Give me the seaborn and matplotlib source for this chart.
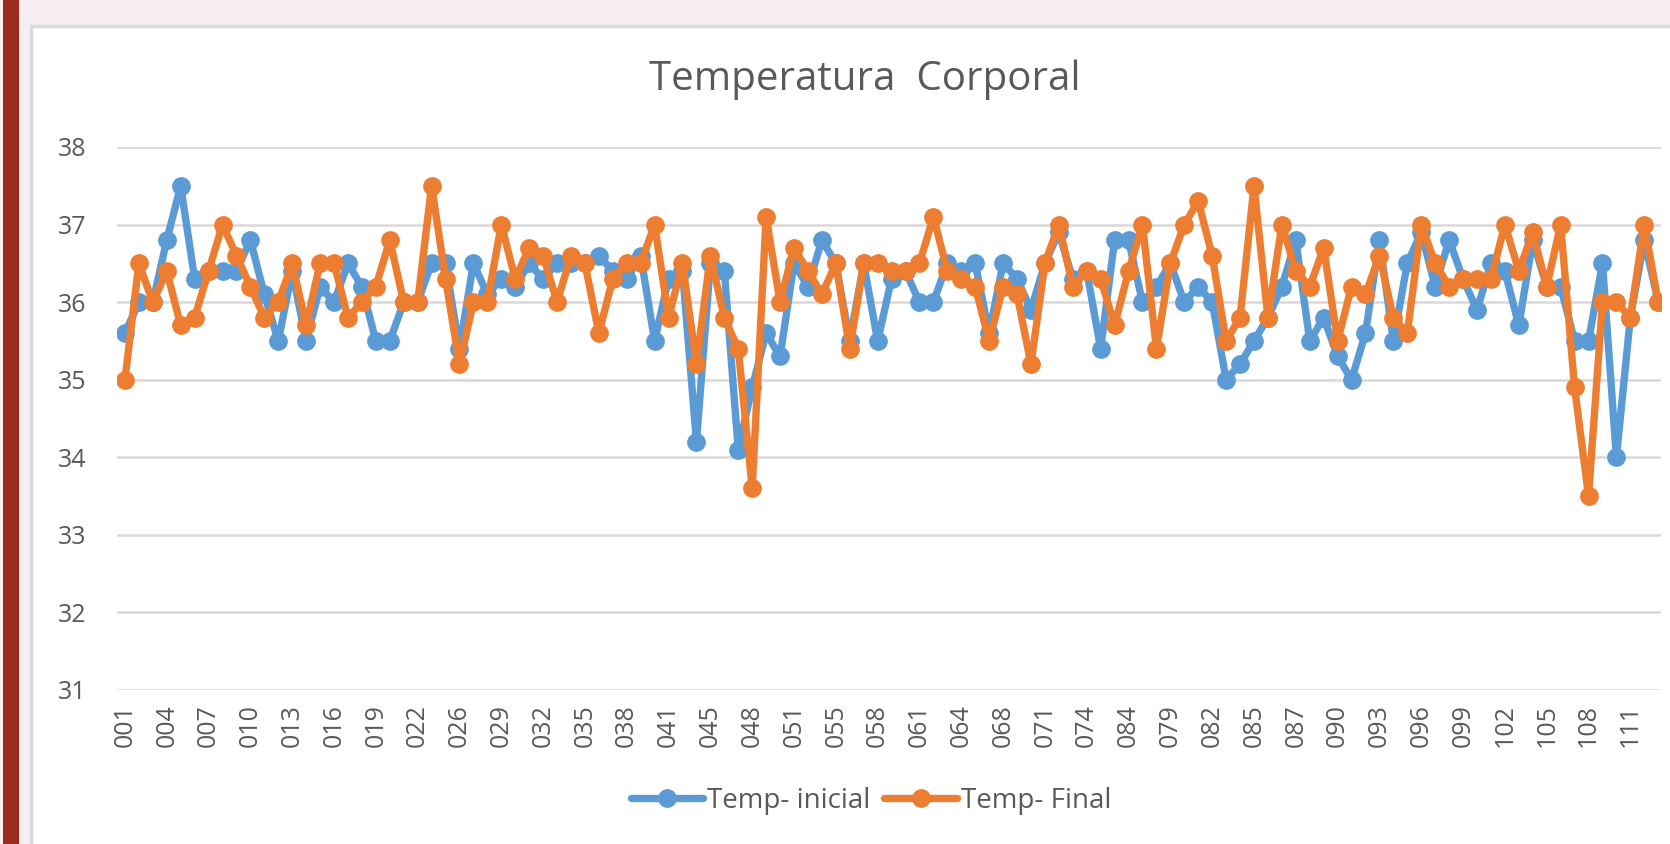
import numpy as np
import pandas as pd
import seaborn as sns
import matplotlib.pyplot as plt
from matplotlib.patches import Rectangle
from matplotlib.lines import Line2D

# patient ids, in the order of the sheet (some are out of order in the source)
ids = ['001', '002', '003', '004', '005', '006', '007', '008', '009', '010',
       '011', '012', '013', '014', '015', '016', '017', '018', '019', '020',
       '021', '022', '024', '025', '026', '027', '028', '029', '030', '031',
       '032', '033', '034', '035', '036', '037', '038', '039', '040', '041',
       '043', '044', '045', '046', '047', '048', '049', '050', '051', '053',
       '054', '055', '056', '057', '058', '059', '060', '061', '062', '063',
       '064', '066', '067', '068', '069', '070', '071', '072', '073', '074',
       '075', '076', '084', '077', '078', '079', '080', '081', '082', '083',
       '084', '085', '086', '086', '087', '088', '089', '090', '091', '092',
       '093', '094', '095', '096', '097', '098', '099', '100', '101', '102',
       '103', '104', '105', '106', '107', '108', '109', '110', '111', '112',
       '113']

temp_inicial = [35.6, 36.0, 36.0, 36.8, 37.5, 36.3, 36.4, 36.4, 36.4, 36.8,
                36.1, 35.5, 36.4, 35.5, 36.2, 36.0, 36.5, 36.2, 35.5, 35.5,
                36.0, 36.0, 36.5, 36.5, 35.4, 36.5, 36.1, 36.3, 36.2, 36.5,
                36.3, 36.5, 36.5, 36.5, 36.6, 36.4, 36.3, 36.6, 35.5, 36.3,
                36.4, 34.2, 36.5, 36.4, 34.1, 34.9, 35.6, 35.3, 36.5, 36.2,
                36.8, 36.5, 35.5, 36.5, 35.5, 36.3, 36.4, 36.0, 36.0, 36.5,
                36.4, 36.5, 35.6, 36.5, 36.3, 35.9, 36.5, 36.9, 36.3, 36.4,
                35.4, 36.8, 36.8, 36.0, 36.2, 36.5, 36.0, 36.2, 36.0, 35.0,
                35.2, 35.5, 35.8, 36.2, 36.8, 35.5, 35.8, 35.3, 35.0, 35.6,
                36.8, 35.5, 36.5, 36.9, 36.2, 36.8, 36.3, 35.9, 36.5, 36.4,
                35.7, 36.8, 36.2, 36.2, 35.5, 35.5, 36.5, 34.0, 35.8, 36.8,
                36.0]

temp_final = [35.0, 36.5, 36.0, 36.4, 35.7, 35.8, 36.4, 37.0, 36.6, 36.2,
              35.8, 36.0, 36.5, 35.7, 36.5, 36.5, 35.8, 36.0, 36.2, 36.8,
              36.0, 36.0, 37.5, 36.3, 35.2, 36.0, 36.0, 37.0, 36.3, 36.7,
              36.6, 36.0, 36.6, 36.5, 35.6, 36.3, 36.5, 36.5, 37.0, 35.8,
              36.5, 35.2, 36.6, 35.8, 35.4, 33.6, 37.1, 36.0, 36.7, 36.4,
              36.1, 36.5, 35.4, 36.5, 36.5, 36.4, 36.4, 36.5, 37.1, 36.4,
              36.3, 36.2, 35.5, 36.2, 36.1, 35.2, 36.5, 37.0, 36.2, 36.4,
              36.3, 35.7, 36.4, 37.0, 35.4, 36.5, 37.0, 37.3, 36.6, 35.5,
              35.8, 37.5, 35.8, 37.0, 36.4, 36.2, 36.7, 35.5, 36.2, 36.1,
              36.6, 35.8, 35.6, 37.0, 36.5, 36.2, 36.3, 36.3, 36.3, 37.0,
              36.4, 36.9, 36.2, 37.0, 34.9, 33.5, 36.0, 36.0, 35.8, 37.0,
              36.0]

series = ['Temp- inicial', 'Temp- Final']
colors = {'Temp- inicial': '#5B9BD5', 'Temp- Final': '#ED7D31'}

n = len(ids)
pos = np.arange(n)
df = pd.DataFrame({
    'pos': np.concatenate([pos, pos]),
    'temp': temp_inicial + temp_final,
    'serie': [series[0]] * n + [series[1]] * n,
})

sns.set_theme(style='white')
plt.rcParams['font.family'] = ['Open Sans', 'DejaVu Sans']
grey = '#595959'

W, H = 1670, 844
fig = plt.figure(figsize=(W / 100, H / 100), dpi=100)
fig.patch.set_facecolor('#F6EEF0')

# screenshot frame: white chart box and the red bar on the left
fig.patches.append(Rectangle((31 / W, -0.01), 1.0, (H - 26) / H + 0.01,
                             transform=fig.transFigure, facecolor='white',
                             edgecolor='#D9D9D9', linewidth=2.5, zorder=-2))
fig.patches.append(Rectangle((3 / W, 0), 16 / W, 1, transform=fig.transFigure,
                             facecolor='#9C2B1F', edgecolor='none', zorder=-1))

ax = fig.add_axes([117 / W, (H - 690) / H, (1661 - 117) / W, (690 - 147) / H])
ax.set_facecolor('none')

sns.lineplot(data=df, x='pos', y='temp', hue='serie', hue_order=series,
             palette=colors, marker='o', markersize=13.5, markeredgewidth=0,
             linewidth=5.3, legend=False, ax=ax)

ax.set_xlim(-0.57, 110.2)
ax.set_ylim(31, 38)
ax.set_yticks(range(31, 39))
ax.set_xticks(pos[::3])
ax.set_xticklabels(ids[::3], rotation=90)
ax.grid(axis='y', color='#D9D9D9', linewidth=1.8)
ax.set_axisbelow(True)
for s in ax.spines.values():
    s.set_visible(False)
ax.tick_params(axis='both', length=0, labelsize=18, labelcolor=grey)
ax.tick_params(axis='y', pad=22)
ax.tick_params(axis='x', pad=10)
ax.set_xlabel('')
ax.set_ylabel('')

fig.text(0.518, 0.905, 'Temperatura  Corporal', ha='center', va='center',
         fontsize=29, color=grey)

handles = [Line2D([], [], color=colors[s], marker='o', markersize=13.5,
                  markeredgewidth=0, linewidth=5.3) for s in series]
fig.legend(handles, series, loc='center', bbox_to_anchor=(0.5216, 0.051),
           ncol=2, frameon=False, fontsize=20, labelcolor=grey,
           handlelength=2.6, handletextpad=0.15, columnspacing=0.5)

fig.savefig('out.png', dpi=100)
